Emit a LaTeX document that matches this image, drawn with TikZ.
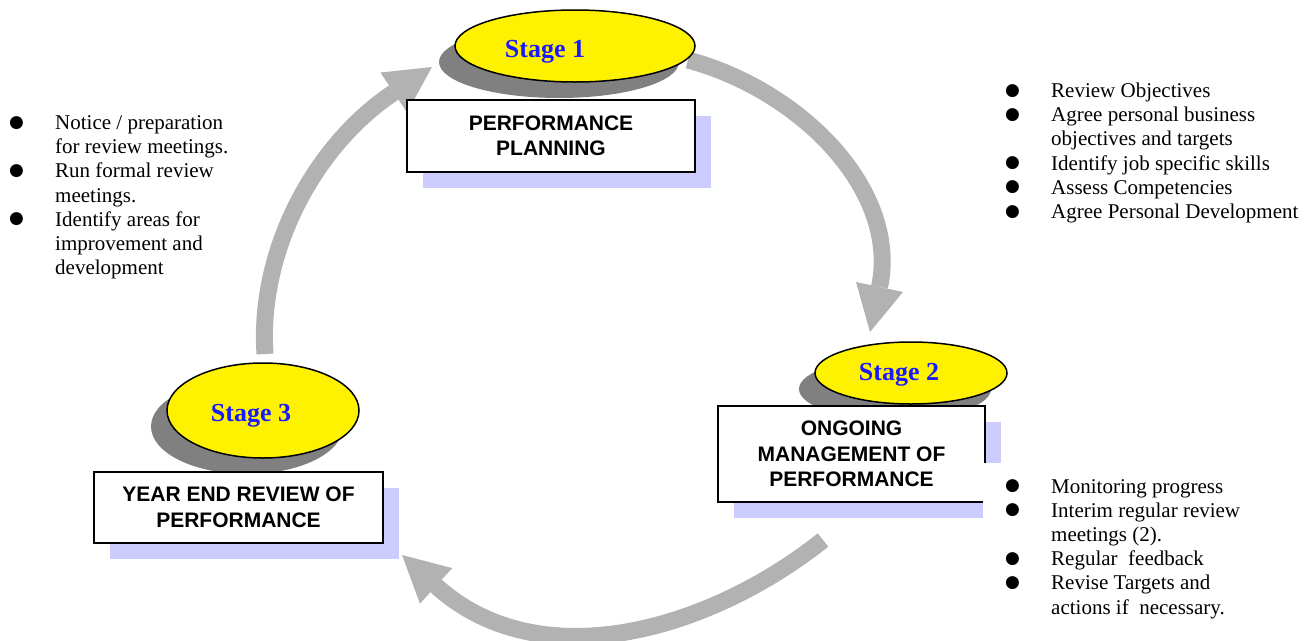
\documentclass[tikz,border=0pt]{standalone}
\usepackage{fontspec}
\setmainfont{Liberation Serif}
\newfontfamily\boxfont{Liberation Sans}
\newfontfamily\symfont{DejaVu Sans}
\usetikzlibrary{arrows.meta,shapes.geometric,shadows}
\definecolor{arrowgray}{HTML}{B2B2B2}
\definecolor{shadowgray}{HTML}{808080}
\definecolor{lavender}{HTML}{CCCCFF}
\definecolor{stageblue}{HTML}{1A1AFF}
\newcommand\mybul{\raisebox{2.5pt}{\symfont\fontsize{17}{10}\selectfont ●}}
\tikzset{
  cyclearrow/.style={draw=arrowgray, line width=17pt,
    -{Triangle[length=46pt,width=48pt,line width=0pt]}},
  stageell/.style={ellipse, draw=black, line width=1.5pt, fill=yellow, inner sep=0pt,
    drop shadow={shadow xshift=-16pt, shadow yshift=-16pt, fill=shadowgray, opacity=1}},
  stagetext/.style={font=\fontsize{26}{28}\selectfont\bfseries, text=stageblue,
    inner sep=0pt, anchor=base},
  titlebox/.style={rectangle, draw=black, line width=1.8pt, fill=white, align=center,
    font=\boxfont\bfseries\fontsize{21}{25.5}\selectfont,
    drop shadow={shadow xshift=16pt, shadow yshift=-16pt, fill=lavender, opacity=1}},
  bullist/.style={inner sep=0pt, anchor=north west, font=\fontsize{21}{24.2}\selectfont},
}
\begin{document}
\begin{tikzpicture}[x=1pt,y=-1pt]
\useasboundingbox (0,0) rectangle (1314,640);

% cycle arrows
\coordinate (a1s) at (688,60);
\coordinate (a1e) at (870,332);
\coordinate (b1s) at (823,540);
\coordinate (b1e) at (402,555);
\coordinate (c1s) at (265,354);
\coordinate (c1e) at (432,67);
\draw[cyclearrow] (a1s) .. controls (800,90) and (900,190) .. (a1e);
\draw[cyclearrow] (b1s) .. controls (710,630) and (540,680) .. (b1e);
\draw[cyclearrow] (c1s) .. controls (258,250) and (315,145) .. (c1e);

% stage ellipses
\node[stageell, minimum width=240pt, minimum height=72pt] (s1) at (575,46) {};
\node[stageell, minimum width=192pt, minimum height=62pt] (s2) at (911,373) {};
\node[stageell, minimum width=192pt, minimum height=95pt] (s3) at (263,410.5) {};
\node[stagetext] (s1t) at ([shift={(-30,11)}]s1.center) {Stage 1};
\node[stagetext] (s2t) at ([shift={(-12,7)}]s2.center) {Stage 2};
\node[stagetext] (s3t) at ([shift={(-12,11)}]s3.center) {Stage 3};

% title boxes
\node[titlebox, minimum width=288pt, minimum height=72pt] (b1) at (551,136)
  {PERFORMANCE\\PLANNING};
\node[titlebox, minimum width=267pt, minimum height=96pt] (b2) at (851.5,454)
  {ONGOING\\MANAGEMENT OF\\PERFORMANCE};
\node[titlebox, minimum width=289pt, minimum height=71pt] (b3) at (238.5,507.5)
  {YEAR END REVIEW OF\\PERFORMANCE};

% bullet lists
\node[bullist] (l1) at (9,112.4) {\begin{tabular}{@{}p{46pt}@{}l@{}}
\mybul & Notice / preparation\\
       & for review meetings.\\
\mybul & Run formal review\\
       & meetings.\\
\mybul & Identify areas for\\
       & improvement and\\
       & development
\end{tabular}};
\node[bullist] (l2) at (1005,80.4) {\begin{tabular}{@{}p{46pt}@{}l@{}}
\mybul & Review Objectives\\
\mybul & Agree personal business\\
       & objectives and targets\\
\mybul & Identify job specific skills\\
\mybul & Assess Competencies\\
\mybul & Agree Personal Development
\end{tabular}};
\node[bullist, fill=white, inner xsep=22pt, inner ysep=13pt] (l3) at (983,463) {\begin{tabular}{@{}p{46pt}@{}l@{}}
\mybul & Monitoring progress\\
\mybul & Interim regular review\\
       & meetings (2).\\
\mybul & Regular\ \ feedback\\
\mybul & Revise Targets and\\
       & actions if\ \ necessary.
\end{tabular}};
\end{tikzpicture}
\end{document}
